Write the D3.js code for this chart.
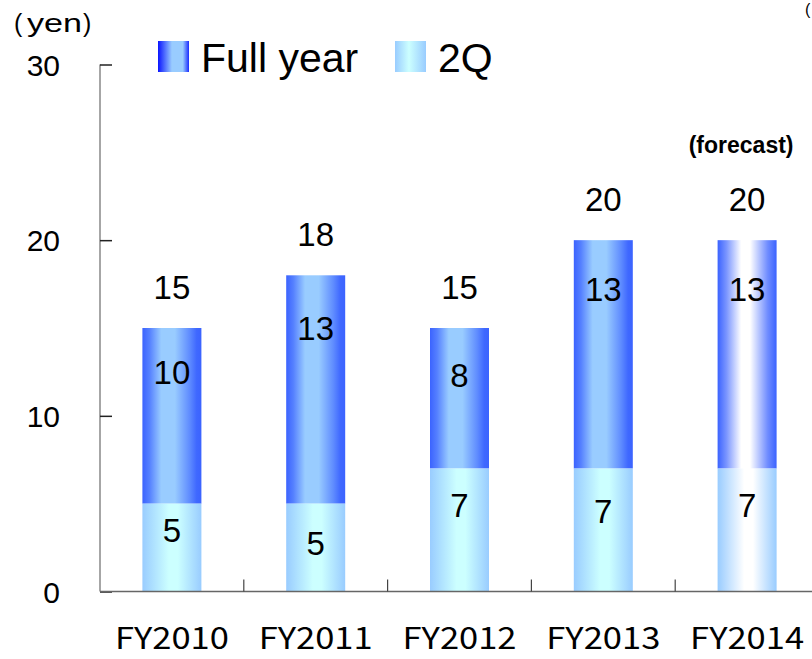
<!DOCTYPE html>
<html><head><meta charset="utf-8">
<script src="https://cdn.jsdelivr.net/npm/d3@7"></script>
<style>body{margin:0;background:#fff}svg{display:block}</style>
</head><body>
<svg id="c" width="812" height="659"></svg>
<script>
const categories = ["FY2010","FY2011","FY2012","FY2013","FY2014"];
const q2Values = [5, 5, 7, 7, 7];
const fullYearValues = [15, 18, 15, 20, 20];
const secondHalfLabels = [10, 13, 8, 13, 13];
const secondHalfLabelPos = [12.5, 15.0, 12.3, 17.2, 17.2];
const q2LabelPos = [3.5, 2.75, 4.9, 4.6, 4.9];
const forecastFlags = [false, false, false, false, true];
const yTicks = [0, 10, 20, 30];
const seriesNames = ["Full year", "2Q"];

const svg = d3.select("#c");
const x = d3.scaleBand().domain(categories).range([100, 819]).paddingInner(0).paddingOuter(0);
const y = d3.scaleLinear().domain([0, 30]).range([591.5, 64.5]);
const barW = 59;

const defs = svg.append("defs");
function grad(id, stops){
  const g = defs.append("linearGradient").attr("id", id).attr("x1","0%").attr("x2","100%").attr("y1","0%").attr("y2","0%");
  stops.forEach(s => g.append("stop").attr("offset", s[0]).attr("stop-color", s[1]));
}
grad("gFull", [["0%","#3b63ff"],["12%","#5580ff"],["32%","#99ccff"],["55%","#99ccff"],["80%","#5f8cff"],["92%","#3f68ff"],["100%","#3b63ff"]]);
grad("gFullF", [["0%","#3b63ff"],["15%","#7a95ff"],["40%","#ffffff"],["55%","#ffffff"],["85%","#6f8cff"],["100%","#3b63ff"]]);
grad("gQ2", [["0%","#99ccff"],["45%","#ccffff"],["60%","#ccffff"],["100%","#99ccff"]]);
grad("gQ2F", [["0%","#99ccff"],["45%","#ffffff"],["60%","#ffffff"],["100%","#99ccff"]]);
grad("gLegFull", [["0%","#0a14ff"],["45%","#99ccff"],["80%","#99ccff"],["100%","#1a2cff"]]);
grad("gLegQ2", [["0%","#99ccff"],["45%","#ccffff"],["100%","#99ccff"]]);

const font = "'Liberation Sans', Arial, sans-serif";

// bars
const g = svg.append("g");
categories.forEach((c, i) => {
  const cx = x(c) + x.bandwidth()/2;
  const f = forecastFlags[i];
  g.append("rect").attr("x", cx - barW/2).attr("width", barW)
    .attr("y", y(fullYearValues[i])).attr("height", y(q2Values[i]) - y(fullYearValues[i]))
    .attr("fill", f ? "url(#gFullF)" : "url(#gFull)");
  g.append("rect").attr("x", cx - barW/2).attr("width", barW)
    .attr("y", y(q2Values[i])).attr("height", y(0) - y(q2Values[i]))
    .attr("fill", f ? "url(#gQ2F)" : "url(#gQ2)");
  g.append("text").attr("x", cx).attr("y", y(fullYearValues[i]) - 29)
    .attr("text-anchor","middle").attr("font-family", font).attr("font-size", 33).text(fullYearValues[i]);
  g.append("text").attr("x", cx).attr("y", y(secondHalfLabelPos[i]) + 12)
    .attr("text-anchor","middle").attr("font-family", font).attr("font-size", 33).text(secondHalfLabels[i]);
  g.append("text").attr("x", cx).attr("y", y(q2LabelPos[i]) + 12)
    .attr("text-anchor","middle").attr("font-family", font).attr("font-size", 33).text(q2Values[i]);
  if (f) {
    g.append("text").attr("x", cx - 6).attr("y", 153).attr("text-anchor","middle")
      .attr("font-family", font).attr("font-weight","bold").attr("font-size", 23).text("(forecast)");
  }
});

// y axis
const ya = svg.append("g").attr("transform","translate(100,0)")
  .call(d3.axisRight(y).tickValues(yTicks).tickSize(12).tickFormat(""));
ya.select(".domain").attr("stroke","#888").attr("stroke-width",1.5).attr("d","M0," + y(30) + "V" + y(0));
ya.selectAll(".tick line").attr("stroke","#222").attr("stroke-width",1.5);
svg.append("g").selectAll("text").data(yTicks).join("text")
  .attr("x", 60).attr("y", d => y(d) + 11).attr("text-anchor","end")
  .attr("font-family", font).attr("font-size", 30).text(d => d);

// x axis
const xa = svg.append("g").attr("transform","translate(0," + y(0) + ")")
  .call(d3.axisBottom(x).tickSize(0).tickFormat(""));
xa.select(".domain").attr("stroke","#666").attr("stroke-width",1.5).attr("d","M100,0H812");
xa.selectAll(".tick").remove();
svg.append("g").selectAll("line").data(categories.slice(1)).join("line")
  .attr("x1", d => x(d)).attr("x2", d => x(d)).attr("y1", y(0)).attr("y2", y(0) - 12)
  .attr("stroke","#444").attr("stroke-width",1.2);
svg.append("g").selectAll("text").data(categories).join("text")
  .attr("x", d => x(d) + x.bandwidth()/2).attr("y", 649).attr("text-anchor","middle")
  .attr("font-family","'Noto Sans CJK JP', sans-serif").attr("font-size", 30)
  .attr("textLength", 114).attr("lengthAdjust","spacingAndGlyphs").text(d => d);

// unit label
const unit = svg.append("text").attr("y", 32).attr("font-family", font).attr("font-size", 25);
unit.append("tspan").attr("x", 14).text("(");
unit.append("tspan").attr("x", 27).attr("textLength", 55).attr("lengthAdjust","spacingAndGlyphs").text("yen");
unit.append("tspan").attr("x", 83).text(")");
svg.append("text").attr("x", 805).attr("y", 15).attr("font-family", font).attr("font-size", 16).text("(");

// legend
const leg = svg.append("g");
const legItems = [{name: seriesNames[0], x: 158, fill: "url(#gLegFull)"}, {name: seriesNames[1], x: 395, fill: "url(#gLegQ2)"}];
legItems.forEach(d => {
  leg.append("rect").attr("x", d.x).attr("y", 41).attr("width", 31).attr("height", 31).attr("fill", d.fill);
  leg.append("text").attr("x", d.x + 43).attr("y", 72).attr("font-family", font).attr("font-size", 41).text(d.name);
});
</script>
</body></html>
